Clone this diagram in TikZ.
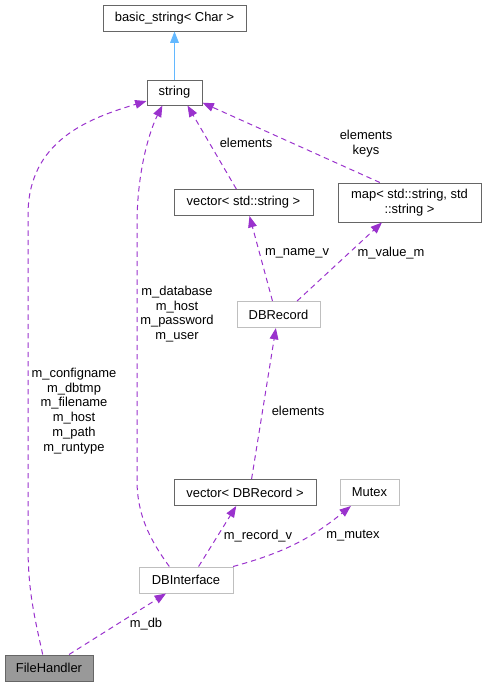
\documentclass[tikz,border=0pt]{standalone}
\usepackage{fontspec}
\setmainfont{Liberation Sans}
\usetikzlibrary{arrows.meta,positioning}

\definecolor{edgepurple}{HTML}{9A32CD}
\definecolor{inheritblue}{HTML}{63B8FF}
\definecolor{darkframe}{HTML}{666666}
\definecolor{lightframe}{HTML}{BFBFBF}
\definecolor{focusfill}{HTML}{999999}

\begin{document}
\begin{tikzpicture}[
        x=0.75pt, y=-0.75pt,
        font=\fontsize{9.7}{11.1}\selectfont,
        cls/.style={rectangle, draw=darkframe, line width=0.75pt, inner sep=0pt,
        minimum height=19.5pt, align=center},
        undoc/.style={cls, draw=lightframe},
        focus/.style={cls, fill=focusfill},
        usage/.style={draw=edgepurple, line width=0.75pt, dash pattern=on 4pt off 3pt,
        -{Triangle[length=8.5pt,width=6.5pt]}},
        inherit/.style={draw=inheritblue, line width=0.75pt,
        -{Triangle[length=8.5pt,width=6.5pt]}},
        lbl/.style={align=center, inner sep=0pt}
    ]
        \useasboundingbox (0,0) rectangle (486,687);

% Classes
        \node[cls, minimum width=107.25pt] (basicstr) at (174.5,18) {basic\_string< Char >};
        \node[cls, minimum width=41.25pt, minimum height=18.75pt] (str) at (174.5,92.5) {string};
        \node[cls, minimum width=104.25pt] (vecstr) at (243.5,202.5) {vector< std::string >};
        \node[cls, minimum width=107.25pt, minimum height=29.25pt] (strmap) at (409.5,202.5)
        {map< std::string, std\\::string >};
        \node[undoc, minimum width=62.25pt] (dbrec) at (278.5,314.5) {DBRecord};
        \node[cls, minimum width=106.5pt] (vecdbrec) at (245,492.5) {vector< DBRecord >};
        \node[undoc, minimum width=44.25pt] (mutex) at (369.5,492.5) {Mutex};
        \node[undoc, minimum width=70.5pt] (dbiface) at (186,580) {DBInterface};
        \node[focus, minimum width=66pt] (filehandler) at (49,668) {FileHandler};

% Inheritance
        \draw[inherit] (str) -- (basicstr);

% Usage relations
        \draw[usage] (filehandler.115) .. controls (34,615) and (28,590) .. (28,545)
        -- (28,215) .. controls (28,140) and (90,118) .. (str.197);
        \draw[usage] (dbiface.141) .. controls (150,540) and (137,515) .. (137,480)
        -- (137,225) .. controls (137,170) and (150,130) .. (str.227);
        \draw[usage] (vecstr.118) -- (str.315);
        \draw[usage] (strmap.146) -- (str.340);
        \draw[usage] (dbrec.114) -- (vecstr.294);
        \draw[usage] (dbrec.36) -- (strmap.216);
        \draw[usage] (vecdbrec.64) -- (dbrec.259);
        \draw[usage] (dbiface.47) -- (vecdbrec.237);
        \draw[usage] (dbiface.16) to[bend right=12] (mutex.216);
        \draw[usage] (filehandler.34) -- (dbiface.214);

% Member labels
        \node[lbl] (lelems) at (246,143) {elements};
        \node[lbl] (lkeys) at (366,143.5) {elements\\keys};
        \node[lbl] (lnamev) at (297,253) {m\_name\_v};
        \node[lbl] (lvaluem) at (391,253) {m\_value\_m};
        \node[lbl] (ldbconn) at (177,314) {m\_database\\m\_host\\m\_password\\m\_user};
        \node[lbl] (lfiles) at (74,411) {m\_configname\\m\_dbtmp\\m\_filename\\m\_host\\m\_path\\m\_runtype};
        \node[lbl] (lrecelems) at (298,411) {elements};
        \node[lbl] (lrecordv) at (258,536) {m\_record\_v};
        \node[lbl] (lmutex) at (353,536) {m\_mutex};
        \node[lbl] (ldb) at (146,624) {m\_db};

    \end{tikzpicture}
\end{document}
